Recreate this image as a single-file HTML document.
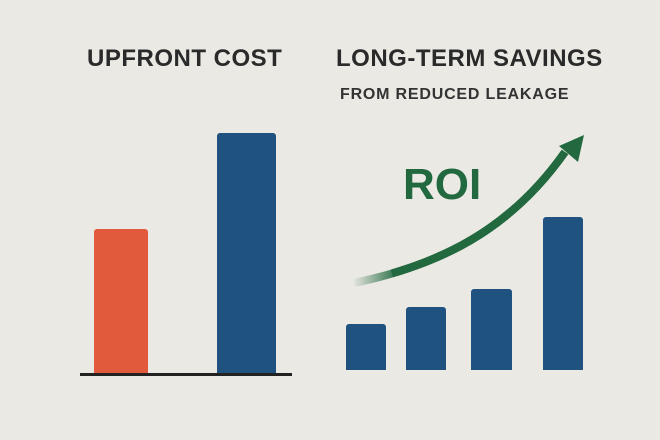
<!DOCTYPE html><html><head><style>
body{margin:0;width:660px;height:440px;background:#ebe9e4;overflow:hidden;position:relative;font-family:"Liberation Sans",sans-serif}
.t{position:absolute;font-weight:bold;color:#2a2a2a;white-space:nowrap}
.b{position:absolute;border-radius:3px 3px 0 0;background:#1f527f}
</style></head><body>
<div class="t" style="left:87px;top:45px;font-size:24px;letter-spacing:0.5px">UPFRONT COST</div>
<div class="t" style="left:336px;top:45px;font-size:24px;letter-spacing:0.5px">LONG-TERM SAVINGS</div>
<div class="t" style="left:340px;top:86px;font-size:16px;letter-spacing:0.8px;color:#333">FROM REDUCED LEAKAGE</div>
<div class="t" style="left:403px;top:160px;font-size:44px;color:#22693f">ROI</div>
<div class="b" style="left:94px;top:229px;width:54px;height:145px;background:#e05a3b"></div>
<div class="b" style="left:217px;top:133px;width:59px;height:241px"></div>
<div style="position:absolute;left:80px;top:373px;width:212px;height:3px;background:#222"></div>
<div class="b" style="left:346px;top:324px;width:40px;height:46px"></div>
<div class="b" style="left:406px;top:307px;width:40px;height:63px"></div>
<div class="b" style="left:471px;top:289px;width:41px;height:81px"></div>
<div class="b" style="left:543px;top:217px;width:40px;height:153px"></div>
<svg width="660" height="440" style="position:absolute;left:0;top:0">
<defs><linearGradient id="g" x1="352" y1="0" x2="400" y2="0" gradientUnits="userSpaceOnUse"><stop offset="0" stop-color="#22693f" stop-opacity="0"/><stop offset="1" stop-color="#22693f"/></linearGradient></defs>
<path d="M354 283 C440 265 510 230 565 152" stroke="url(#g)" stroke-width="8" fill="none"/>
<path d="M353 283 C440 265 510 230 565 152" stroke="#22693f" stroke-width="8" fill="none" stroke-dasharray="0 40 1000"/>
<polygon points="584,135 559,146 578,162" fill="#22693f"/>
</svg>
</body></html>
